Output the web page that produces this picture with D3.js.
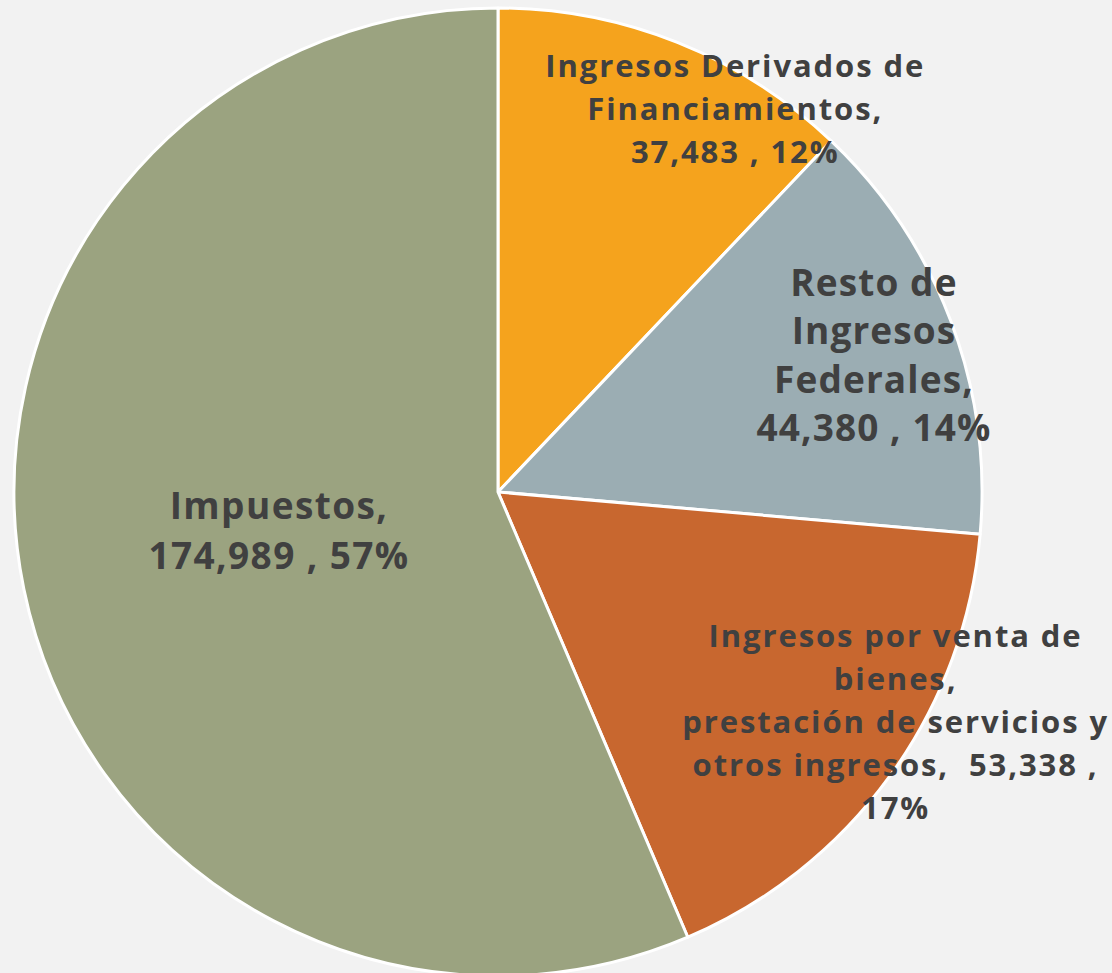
<!DOCTYPE html>
<html><head><meta charset="utf-8">
<script src="https://cdn.jsdelivr.net/npm/d3@7"></script>
<style>html,body{margin:0;padding:0;background:#f2f2f2;} text{white-space:pre;}</style>
</head><body>
<svg id="chart" width="1112" height="973"></svg>
<script>
const categories = ["Ingresos Derivados de Financiamientos", "Resto de Ingresos Federales", "Ingresos por venta de bienes, prestación de servicios y otros ingresos", "Impuestos"];
const values = [37483, 44380, 53338, 174989];
const valueLabels = ["37,483", "44,380", "53,338", "174,989"];
const percentLabels = ["12%", "14%", "17%", "57%"];
const colors = ["#F5A31D", "#9BADB3", "#C8672F", "#9BA380"];
// label text lines (as shown in the chart)
const labelLines = [
  ["Ingresos Derivados de", "Financiamientos,", "37,483 , 12%"],
  ["Resto de", "Ingresos", "Federales,", "44,380 , 14%"],
  ["Ingresos por venta de", "bienes,", "prestación de servicios y", "otros ingresos,  53,338 ,", "17%"],
  ["Impuestos,", "174,989 , 57%"]
];

const cx = 498, cy = 492, R = 484;
const svg = d3.select("#chart");
const g = svg.append("g").attr("transform", `translate(${cx},${cy})`);
const pie = d3.pie().sort(null).value(d => d)(values);
const arc = d3.arc().innerRadius(0).outerRadius(R);
g.selectAll("path").data(pie).join("path")
  .attr("d", arc).attr("fill", (d,i) => colors[i])
  .attr("stroke", "#ffffff").attr("stroke-width", 3).attr("stroke-linejoin","round");

// label layout (polar offset from center: distance, angle deg clockwise from top), font size, line height, letter spacing
const labelLayout = [
  {dist: 451, ang: 31.6, fs: 31, lh: 43, ls: 1.9},
  {dist: 400, ang: 69.8, fs: 37, lh: 48.5, ls: 1.1},
  {dist: 458, ang: 120, fs: 31, lh: 43, ls: 1.9},
  {dist: 223, ang: 260.2, fs: 37, lh: 50, ls: 1.4}
];
labelLines.forEach((lines, i) => {
  const L = labelLayout[i];
  const a = L.ang * Math.PI / 180;
  const x = L.dist * Math.sin(a) + L.ls / 2, y = -L.dist * Math.cos(a);
  const t = g.append("text")
    .attr("x", x).attr("y", y)
    .attr("text-anchor", "middle")
    .attr("font-family", "'Open Sans', sans-serif")
    .attr("font-weight", "bold")
    .attr("font-size", L.fs)
    .attr("letter-spacing", L.ls)
    .attr("fill", "#404040");
  const n = lines.length;
  lines.forEach((s, k) => {
    t.append("tspan").attr("x", x)
      .attr("y", y + (k - (n - 1) / 2) * L.lh)
      .attr("dominant-baseline", "central")
      .text(s);
  });
});
</script>
</body></html>
